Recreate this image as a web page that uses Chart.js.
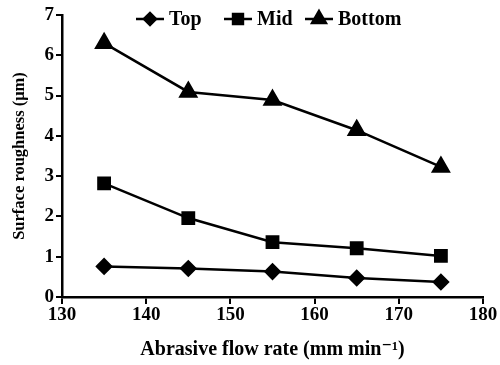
<!DOCTYPE html>
<html>
<head>
<meta charset="utf-8">
<script src="https://cdn.jsdelivr.net/npm/chart.js@4"></script>
<style>
  html, body { margin: 0; padding: 0; background: #fff; }
  #wrap { width: 500px; height: 365px; }
</style>
</head>
<body>
<div id="wrap"><canvas id="roughChart"></canvas></div>
<script>
// abrasive flow rate (mm/min)
const flowRates = [135, 145, 155, 165, 175];
const topValues = [0.76, 0.71, 0.63, 0.47, 0.37];
const midValues = [2.82, 1.96, 1.36, 1.21, 1.02];
const bottomValues = [6.3, 5.09, 4.89, 4.14, 3.23];
const yTicks = [0, 1, 2, 3, 4, 5, 6, 7];
const xTicks = [130, 140, 150, 160, 170, 180];

const fontFamily = '"Liberation Serif", "DejaVu Serif", serif';

function toPoints(values) {
    return values.map((v, i) => ({ x: flowRates[i], y: v }));
}

// legend drawn inside the plot, marker with a line through it
const lineLegend = {
    id: 'lineLegend',
    afterDraw(chart) {
        const ctx = chart.ctx;
        const y = 19;
        const starts = [136, 224, 305];
        ctx.save();
        ctx.font = 'bold 20px ' + fontFamily;
        ctx.textBaseline = 'middle';
        chart.data.datasets.forEach((ds, i) => {
            const x = starts[i];
            ctx.strokeStyle = '#000';
            ctx.lineWidth = 2.5;
            ctx.beginPath();
            ctx.moveTo(x, y);
            ctx.lineTo(x + 28, y);
            ctx.stroke();
            Chart.helpers.drawPoint(ctx, {
                pointStyle: ds.pointStyle,
                radius: ds.pointRadius - 1,
                rotation: 0,
                borderWidth: 1
            }, x + 14, y);
            ctx.fillStyle = '#000';
            ctx.fill();
            ctx.fillText(ds.label, x + 33, y + 1);
        });
        ctx.restore();
    }
};

new Chart(document.getElementById('roughChart'), {
    type: 'line',
    data: {
        datasets: [
            { label: 'Top', data: toPoints(topValues), pointStyle: 'rectRot', pointRadius: 7 },
            { label: 'Mid', data: toPoints(midValues), pointStyle: 'rect', pointRadius: 8 },
            { label: 'Bottom', data: toPoints(bottomValues), pointStyle: 'triangle', pointRadius: 9 }
        ].map(ds => Object.assign(ds, {
            borderColor: '#000',
            backgroundColor: '#000',
            pointBackgroundColor: '#000',
            pointBorderColor: '#000',
            borderWidth: 2.5,
            tension: 0
        }))
    },
    options: {
        responsive: true,
        maintainAspectRatio: false,
        animation: false,
        layout: { padding: { left: 0, right: 17, top: 15, bottom: 0 } },
        plugins: {
            legend: { display: false },
            tooltip: { enabled: false }
        },
        scales: {
            x: {
                type: 'linear',
                min: 130,
                max: 180,
                afterBuildTicks: axis => { axis.ticks = xTicks.map(v => ({ value: v })); },
                afterFit: axis => { axis.height = 68; },
                border: { color: '#000', width: 2.5 },
                grid: { drawOnChartArea: false, color: '#000', lineWidth: 2, tickLength: 7 },
                ticks: {
                    color: '#000',
                    padding: 0,
                    maxRotation: 0,
                    font: { family: fontFamily, size: 19, weight: 'bold' }
                },
                title: {
                    display: true,
                    text: 'Abrasive flow rate (mm min⁻¹)',
                    color: '#000',
                    padding: { top: 0, bottom: 3 },
                    font: { family: fontFamily, size: 20, weight: 'bold' }
                }
            },
            y: {
                min: 0,
                max: 7,
                afterBuildTicks: axis => { axis.ticks = yTicks.map(v => ({ value: v })); },
                afterFit: axis => { axis.width = 62; },
                border: { color: '#000', width: 2.5 },
                grid: { drawOnChartArea: false, color: '#000', lineWidth: 2, tickLength: 6 },
                ticks: {
                    color: '#000',
                    padding: 2,
                    font: { family: fontFamily, size: 19, weight: 'bold' }
                },
                title: {
                    display: true,
                    text: 'Surface roughness (μm)',
                    color: '#000',
                    padding: { top: 10, bottom: 8 },
                    font: { family: fontFamily, size: 16.5, weight: 'bold' }
                }
            }
        }
    },
    plugins: [lineLegend]
});
</script>
</body>
</html>
